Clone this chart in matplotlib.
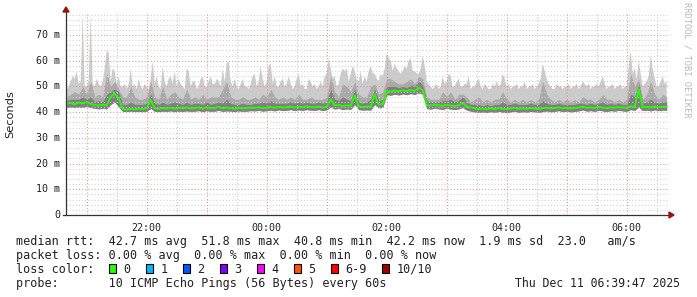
import numpy as np
import matplotlib
matplotlib.use("Agg")
import matplotlib.pyplot as plt
from matplotlib.patches import Rectangle, Polygon

# ---------------- data (ms), minutes relative to 22:00 ----------------
# coarse series: 4-minute samples; ping_max: 2-minute samples
t_start, t_step, t_step_fine = -80, 4, 2
median = [
    43.3, 43.6, 43.0, 43.8, 43.4, 44.0, 43.2, 42.8, 42.6, 42.9,
    42.7, 46.0, 47.2, 45.5, 41.2, 41.0, 41.3, 41.1, 41.4, 41.2,
    41.6, 44.8, 41.5, 41.3, 41.6, 41.4, 41.8, 41.3, 41.7, 41.5,
    41.9, 41.4, 41.6, 41.9, 41.3, 42.0, 41.5, 41.7, 42.1, 41.4,
    41.8, 41.6, 41.3, 41.7, 41.5, 41.6, 41.8, 41.7, 41.9, 41.6,
    41.8, 42.0, 41.7, 42.1, 41.8, 41.9, 42.2, 41.8, 42.1, 41.9,
    42.3, 42.0, 41.9, 42.2, 41.8, 42.1, 45.0, 42.6, 42.9, 42.4,
    42.7, 42.5, 46.5, 42.3, 42.0, 42.2, 42.1, 47.0, 43.0, 43.1,
    48.2, 48.0, 48.4, 48.1, 48.5, 48.2, 48.6, 48.3, 49.5, 48.6,
    42.8, 42.6, 42.9, 42.7, 42.5, 42.9, 42.6, 42.4, 42.7, 43.6,
    42.3, 41.8, 41.5, 41.2, 41.4, 41.1, 41.5, 41.2, 41.6, 41.3,
    41.1, 41.4, 41.7, 41.2, 41.5, 41.3, 41.6, 41.4, 41.2, 41.5,
    41.8, 41.4, 41.6, 41.9, 41.5, 41.7, 41.4, 41.6, 41.8, 42.2,
    41.7, 41.9, 41.6, 42.1, 41.8, 41.5, 41.9, 41.7, 42.0, 41.8,
    41.6, 42.3, 42.0, 49.0, 41.9, 42.1, 41.8, 42.2, 41.9, 42.1,
    42.2,
]
ping_max = [
    49, 50, 52, 54, 53, 56, 51, 52, 78, 50, 50, 52, 78, 51, 50, 53, 51, 50, 52, 57,
    64, 63, 52, 57, 56, 51, 54, 50, 50, 51, 49, 51, 57, 50, 51, 49, 53, 50, 49, 51,
    50, 49, 53, 60, 51, 54, 50, 49, 58, 52, 50, 53, 54, 51, 56, 50, 53, 51, 50, 49,
    57, 56, 50, 52, 52, 49, 50, 53, 54, 50, 50, 52, 54, 51, 51, 53, 52, 50, 57, 52,
    59, 60, 52, 50, 53, 50, 49, 51, 53, 50, 50, 49, 51, 54, 55, 50, 52, 58, 53, 50,
    52, 58, 59, 51, 54, 50, 50, 52, 53, 50, 51, 54, 51, 49, 50, 53, 55, 50, 51, 49,
    49, 53, 52, 50, 51, 49, 50, 52, 50, 54, 55, 61, 57, 53, 54, 50, 51, 55, 57, 56,
    57, 52, 55, 58, 56, 53, 52, 56, 51, 54, 52, 56, 58, 55, 55, 53, 52, 55, 54, 57,
    63, 61, 60, 56, 59, 57, 56, 55, 56, 58, 57, 60, 61, 56, 56, 55, 55, 57, 62, 58,
    52, 51, 50, 49, 50, 51, 49, 50, 54, 51, 52, 55, 54, 50, 50, 52, 53, 50, 50, 51,
    51, 54, 49, 50, 50, 52, 53, 50, 49, 51, 50, 49, 49, 51, 50, 52, 50, 51, 55, 53,
    50, 51, 49, 50, 50, 51, 49, 50, 50, 52, 49, 50, 50, 51, 49, 50, 51, 53, 59, 56,
    53, 51, 50, 49, 49, 51, 50, 50, 49, 50, 50, 51, 49, 50, 50, 51, 49, 50, 52, 51,
    50, 51, 49, 50, 50, 51, 50, 52, 54, 51, 49, 50, 50, 51, 49, 50, 50, 51, 49, 50,
    50, 58, 64, 55, 57, 53, 60, 55, 50, 51, 52, 54, 62, 57, 53, 50, 50, 52, 54, 51,
    52,
]
ping_p80 = [
    46, 47, 48, 47, 50, 47, 52, 46, 47, 46,
    55, 50, 52, 49, 46, 46, 50, 46, 45, 45,
    46, 52, 46, 45, 50, 45, 47, 48, 46, 45,
    49, 45, 46, 45, 47, 45, 46, 46, 46, 49,
    52, 46, 45, 45, 46, 45, 45, 46, 45, 47,
    46, 49, 46, 45, 46, 45, 46, 45, 47, 45,
    45, 46, 45, 45, 45, 46, 54, 48, 46, 51,
    50, 48, 52, 47, 46, 46, 50, 51, 47, 48,
    53, 53, 52, 51, 51, 52, 53, 51, 54, 53,
    46, 45, 45, 45, 48, 46, 48, 45, 47, 47,
    46, 44, 45, 46, 44, 45, 44, 45, 45, 48,
    45, 44, 45, 44, 45, 44, 45, 44, 45, 52,
    47, 45, 44, 45, 44, 45, 44, 45, 44, 46,
    45, 45, 44, 45, 47, 45, 45, 44, 45, 44,
    45, 55, 50, 53, 45, 47, 52, 47, 45, 47,
    46,
]
ping_p70 = [
    44.5, 45, 45, 45, 46, 45, 46, 44, 44.5, 44,
    47, 48, 49, 48, 43, 43, 44, 43, 43, 43,
    43.5, 47, 43.5, 43, 44, 43, 43.5, 44, 43.5, 43,
    44, 43, 43.5, 43.5, 43, 44, 43, 43.5, 44, 43.5,
    45, 43.5, 43, 43, 43.5, 43, 43, 43.5, 43.5, 44,
    43.5, 44.5, 43.5, 43.5, 43.5, 43.5, 44, 43.5, 44, 43.5,
    44, 43.5, 43.5, 44, 43.5, 44, 49, 45, 44.5, 46,
    45, 44.5, 49, 44, 43.5, 44, 45, 49, 44.5, 45,
    50, 50, 50, 49.5, 50, 49.5, 50.5, 50, 52, 50.5,
    44.5, 44, 44, 44, 44.5, 44.5, 45, 44, 44.5, 46,
    44, 43, 43, 43, 42.5, 43, 42.5, 43, 43, 44,
    43, 43, 43.5, 43, 43, 43, 43.5, 43, 43, 44.5,
    43.5, 43, 43, 43.5, 43, 43, 43, 43, 43.5, 43.5,
    43, 43.5, 43, 43.5, 44, 43, 43.5, 43, 43.5, 43,
    43, 47, 46, 51, 43.5, 44, 45, 44, 43.5, 44,
    44,
]
ping_min = [
    41.8, 42.0, 41.8, 42.0, 41.9, 42.2, 41.8, 41.5, 41.3, 41.5,
    41.3, 43.0, 44.0, 42.0, 40.3, 40.2, 40.4, 40.2, 40.3, 40.2,
    40.4, 41.5, 40.3, 40.2, 40.4, 40.3, 40.5, 40.2, 40.4, 40.3,
    40.5, 40.3, 40.4, 40.6, 40.2, 40.6, 40.3, 40.4, 40.7, 40.3,
    40.5, 40.4, 40.2, 40.5, 40.3, 40.4, 40.6, 40.5, 40.7, 40.4,
    40.6, 40.8, 40.5, 40.9, 40.6, 40.7, 41.0, 40.6, 40.9, 40.7,
    41.0, 40.8, 40.7, 41.0, 40.6, 40.9, 42.0, 41.2, 41.5, 41.0,
    41.3, 41.1, 43.0, 41.0, 40.8, 40.9, 40.8, 43.0, 41.7, 41.8,
    46.8, 46.6, 47.0, 46.7, 47.1, 46.8, 47.2, 46.9, 47.5, 47.0,
    41.4, 41.2, 41.5, 41.3, 41.1, 41.5, 41.2, 41.0, 41.3, 41.8,
    40.8, 40.4, 40.1, 39.9, 40.1, 39.8, 40.2, 39.9, 40.3, 40.0,
    39.8, 40.1, 40.4, 39.9, 40.2, 40.0, 40.3, 40.1, 39.9, 40.2,
    40.5, 40.1, 40.3, 40.6, 40.2, 40.4, 40.1, 40.3, 40.5, 40.9,
    40.4, 40.6, 40.3, 40.8, 40.5, 40.2, 40.6, 40.4, 40.7, 40.5,
    40.3, 41.0, 40.7, 42.0, 40.6, 40.8, 40.5, 40.9, 40.6, 40.8,
    40.7,
]
tick_minutes = [0, 120, 240, 360, 480]
tick_labels = ["22:00", "00:00", "02:00", "04:00", "06:00"]
ytick_vals = [0, 10, 20, 30, 40, 50, 60, 70]
ytick_labels = ["0", "10 m", "20 m", "30 m", "40 m", "50 m", "60 m", "70 m"]
loss_labels = ["0", "1", "2", "3", "4", "5", "6-9", "10/10"]
loss_colors = ["#26ff00", "#00b8ff", "#0059ff", "#7e00ff", "#ff00ff", "#ff5500", "#ff0000", "#a10000"]
legend_lines = [
    "median rtt:  42.7 ms avg  51.8 ms max  40.8 ms min  42.2 ms now  1.9 ms sd  23.0   am/s",
    "packet loss: 0.00 % avg  0.00 % max  0.00 % min  0.00 % now",
    "loss color:",
    "probe:       10 ICMP Echo Pings (56 Bytes) every 60s",
]
stamp = "Thu Dec 11 06:39:47 2025"

# ---------------- figure ----------------
W, H = 697, 297
fig = plt.figure(figsize=(W / 100, H / 100), dpi=100)
fig.patch.set_facecolor("white")

px_left, px_right, px_top, px_bottom = 66, 668, 14, 215
ax = fig.add_axes([px_left / W, 1 - px_bottom / H, (px_right - px_left) / W, (px_bottom - px_top) / H])
ax.set_facecolor("white")

t = t_start + t_step * np.arange(len(median))
t_fine = t_start + t_step_fine * np.arange(len(ping_max))
# outer smoke band: top from ping_max (fine), bottom from ping_min (coarse)
ax.fill(np.concatenate([t_fine, t[::-1]]), np.concatenate([ping_max, ping_min[::-1]]),
        color="#cbcbcb", lw=0, zorder=1)
ax.fill_between(t, ping_min, ping_p80, color="#a9a9a9", lw=0, zorder=2)
ax.fill_between(t, ping_min, ping_p70, color="#808080", lw=0, zorder=3)

xmin, xmax = -80.7, 521.3
ymax = 78.2
ax.set_xlim(xmin, xmax)
ax.set_ylim(0, ymax)

# grid
minor_x = [m for m in range(-90, 540, 30) if m % 60 != 0 and xmin < m < xmax]
major_x = [m for m in range(-60, 540, 60) if xmin < m < xmax]
minor_y = [v for v in range(2, 79, 2) if v % 10 != 0]
major_y = [v for v in range(10, 79, 10)]
gkw = dict(lw=0.75, linestyle=(0, (1, 2)), zorder=4)
for m in minor_x:
    ax.axvline(m, color="#c8c8c8", **gkw)
for v in minor_y:
    ax.axhline(v, color="#d0d0d0", **gkw)
for m in major_x:
    ax.axvline(m, color="#eb8f8f", **gkw)
for v in major_y:
    ax.axhline(v, color="#eb8f8f", **gkw)

ax.plot(t, median, color="#26ff00", lw=1.3, zorder=6)

for s in ax.spines.values():
    s.set_visible(False)
ax.set_xticks([])
ax.set_yticks([])

# axes lines with arrows
axis_col = "#333333"
arrow_col = "#991111"
ax.plot([xmin, xmin], [0, ymax + 2.2], color=axis_col, lw=0.9, clip_on=False, zorder=7)
ax.plot([xmin - 3, xmax + 1.5], [0, 0], color=axis_col, lw=0.9, clip_on=False, zorder=7)
fig.patches.append(Polygon([[63 / W, 1 - 12 / H], [69 / W, 1 - 12 / H], [66 / W, 1 - 7 / H]],
                           closed=True, transform=fig.transFigure, facecolor=arrow_col, edgecolor=arrow_col))
fig.patches.append(Polygon([[669 / W, 1 - 212 / H], [669 / W, 1 - 218 / H], [674 / W, 1 - 215 / H]],
                           closed=True, transform=fig.transFigure, facecolor=arrow_col, edgecolor=arrow_col))

mono = "DejaVu Sans Mono"
for m, lab in zip(tick_minutes, tick_labels):
    ax.text(m, -5.0, lab, ha="center", va="center", fontsize=7.2, family=mono, color="#222222", clip_on=False)
for v, lab in zip(ytick_vals, ytick_labels):
    ax.text(-80.7 - 6, v, lab, ha="right", va="center", fontsize=7.2, family=mono, color="#222222", clip_on=False)

fig.text(10.5 / W, 1 - 114.5 / H, "Seconds", rotation=90, ha="center", va="center",
         fontsize=8.2, family="DejaVu Sans", color="#222222")
fig.text(687 / W, 1 - 60 / H, "RRDTOOL / TOBI OETIKER", rotation=270, ha="center", va="center",
         fontsize=6.3, family=mono, color="#b8b8b8")

# legend
fs = 8.5
baselines = [244.7, 258.7, 272.7, 287.0]
for y, line in zip(baselines, legend_lines):
    fig.text(16 / W, 1 - y / H, line, ha="left", va="baseline", fontsize=fs, family=mono, color="#222222")
fig.text(680 / W, 1 - baselines[3] / H, stamp, ha="right", va="baseline", fontsize=8.3, family=mono, color="#222222")

box_x = [109, 145.5, 182.5, 219.5, 256.5, 293.5, 330.5, 381.5]
lab_x = [123.5, 160.5, 197.5, 234.5, 271.5, 308.5, 345, 396.5]
for bx, lx, lab, col in zip(box_x, lab_x, loss_labels, loss_colors):
    fig.patches.append(Rectangle((bx / W, 1 - 273 / H), 7 / W, 9 / H, transform=fig.transFigure,
                                 facecolor=col, edgecolor="black", lw=0.8))
    fig.text(lx / W, 1 - baselines[2] / H, lab, ha="left", va="baseline", fontsize=fs, family=mono, color="#222222")

fig.savefig("out.png", dpi=100, facecolor="white")
